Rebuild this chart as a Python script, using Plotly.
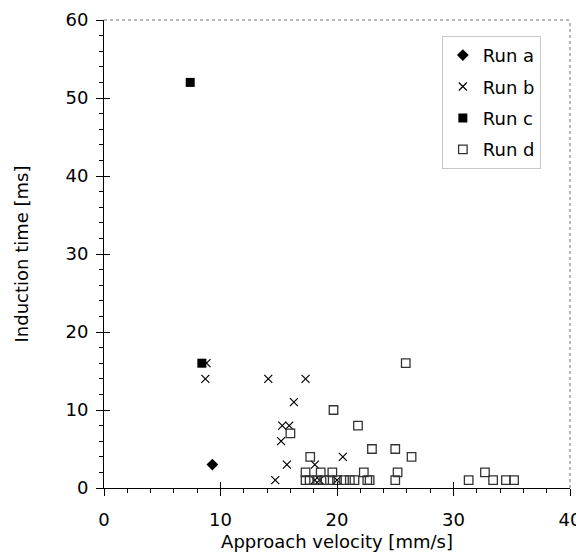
import plotly.graph_objects as go

# ---- data ----
run_a_x = [9.3]
run_a_y = [3]

run_b_x = [8.7, 8.8, 14.1, 17.3, 16.3, 15.3, 15.9, 15.2, 15.7, 14.7, 18.1, 20.5, 18.1, 18.5, 20.0]
run_b_y = [14, 16, 14, 14, 11, 8, 8, 6, 3, 1, 3, 4, 1, 1, 1]

run_c_x = [7.4, 8.4]
run_c_y = [52, 16]

run_d_x = [25.9, 19.7, 21.8, 16.0, 23.0, 25.0, 26.4, 17.7,
           17.3, 18.6, 19.6, 22.3, 25.2, 32.7,
           17.3, 17.65, 18.3, 18.9, 19.4, 20.0, 20.6, 21.1, 21.5, 22.6, 22.8, 25.0,
           31.3, 33.4, 34.5, 35.2]
run_d_y = [16, 10, 8, 7, 5, 5, 4, 4,
           2, 2, 2, 2, 2, 2,
           1, 1, 1, 1, 1, 1, 1, 1, 1, 1, 1, 1,
           1, 1, 1, 1]

x_range = [0, 40]
y_range = [0, 60]
x_title = "Approach velocity [mm/s]"
y_title = "Induction time [ms]"

FONT = "DejaVu Sans, Verdana, sans-serif"
FS = 18

fig = go.Figure()
fig.add_trace(go.Scatter(x=run_a_x, y=run_a_y, mode="markers", name="Run a",
                         legendgroup="a",
                         marker=dict(symbol="diamond", size=9, color="black")))
fig.add_trace(go.Scatter(x=run_b_x, y=run_b_y, mode="markers", name="Run b",
                         legendgroup="b",
                         marker=dict(symbol="x-thin-open", size=8, color="black",
                                     line=dict(width=1.2, color="black"))))
fig.add_trace(go.Scatter(x=run_c_x, y=run_c_y, mode="markers", name="Run c",
                         legendgroup="c",
                         marker=dict(symbol="square", size=9, color="black")))
fig.add_trace(go.Scatter(x=run_d_x, y=run_d_y, mode="markers", name="Run d",
                         legendgroup="d",
                         marker=dict(symbol="square-open", size=8.5, color="#333333",
                                     line=dict(width=1.3, color="#333333"))))
# invisible trace to carry the overlay axes (inside halves of major ticks)
fig.add_trace(go.Scatter(x=x_range, y=y_range, xaxis="x2", yaxis="y2", mode="markers",
                         marker=dict(opacity=0), showlegend=False, hoverinfo="skip"))

fig.update_layout(
    width=576, height=549,
    margin=dict(l=96, r=14, t=12, b=69, autoexpand=False),
    paper_bgcolor="white", plot_bgcolor="white",
    font=dict(family=FONT, size=FS, color="black"),
    showlegend=True,
    legend=dict(x=0.725, y=0.966, xanchor="left", yanchor="top",
                bordercolor="#c8c8c8", borderwidth=1, bgcolor="white",
                font=dict(family=FONT, size=FS, color="black"),
                tracegroupgap=5, itemwidth=30),
    xaxis=dict(range=x_range, dtick=10, showgrid=False, zeroline=False,
               showline=True, linecolor="black", linewidth=1, automargin=False,
               ticks="outside", ticklen=7, tickcolor="black",
               minor=dict(dtick=2, ticks="outside", ticklen=4, tickcolor="black"),
               ticklabelstandoff=8,
               title=dict(text=x_title, standoff=6, font=dict(size=FS)),
               tickfont=dict(size=FS)),
    yaxis=dict(range=y_range, dtick=10, showgrid=False, zeroline=False,
               showline=True, linecolor="black", linewidth=1, automargin=False,
               ticks="outside", ticklen=7, tickcolor="black",
               minor=dict(dtick=2, ticks="outside", ticklen=4, tickcolor="black"),
               ticklabelstandoff=4,
               title=dict(text=y_title, standoff=32, font=dict(size=FS)),
               tickfont=dict(size=FS)),
    xaxis2=dict(range=x_range, overlaying="x", anchor="y", side="bottom", automargin=False,
                dtick=10, ticks="inside", ticklen=6, tickcolor="black",
                showticklabels=False, showgrid=False, zeroline=False, showline=False),
    yaxis2=dict(range=y_range, overlaying="y", anchor="x", side="left", automargin=False,
                dtick=10, ticks="inside", ticklen=6, tickcolor="black",
                showticklabels=False, showgrid=False, zeroline=False, showline=False),
    shapes=[
        dict(type="line", xref="paper", yref="paper", x0=0, x1=1, y0=1, y1=1,
             line=dict(color="#707070", width=1, dash="dot")),
        dict(type="line", xref="paper", yref="paper", x0=1, x1=1, y0=0, y1=1,
             line=dict(color="#707070", width=1, dash="dot")),
    ],
)

fig.write_html("out.html")
